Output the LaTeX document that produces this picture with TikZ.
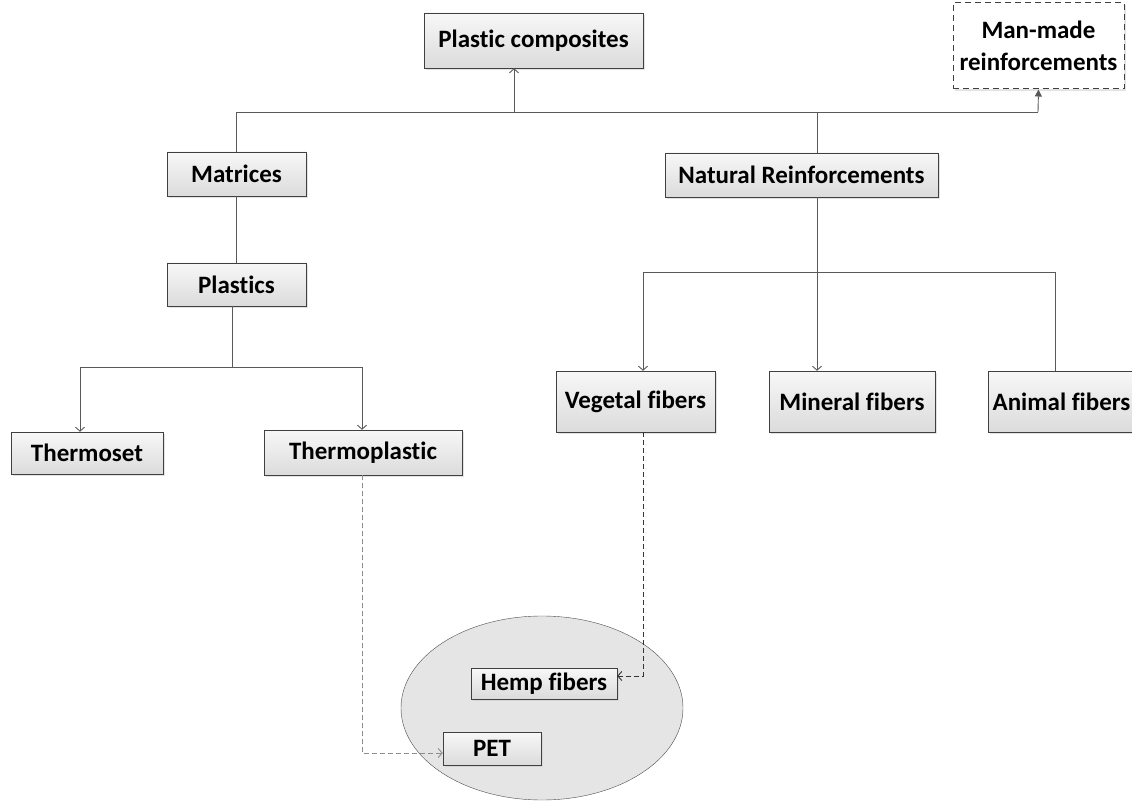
\documentclass[tikz,border=0pt]{standalone}
\usepackage{fontspec}
\setmainfont{Carlito}[Ligatures={NoCommon}]
\usetikzlibrary{arrows.meta,shadows,shapes.geometric}

\begin{document}
\begin{tikzpicture}[x=1pt, y=-1pt,
  box/.style={draw=black!75, top color=black!3, bottom color=black!14, inner sep=0pt,
    drop shadow={shadow xshift=2pt, shadow yshift=-2pt, fill=black!22},
    font=\fontsize{25}{32}\selectfont\bfseries, align=center},
  link/.style={draw=black!65, line width=0.9pt},
  tip/.style={link, -{Straight Barb[length=4pt, width=9pt]}},
  dashlink/.style={tip, dashed, dash pattern=on 5pt off 3pt},
  ]
\useasboundingbox (0,0) rectangle (1132,802);

\node[ellipse, draw=black!70, fill=black!10, minimum width=282pt, minimum height=184pt] (blend) at (542,708) {};

\node[box, minimum width=219pt, minimum height=55pt] (pc) at (533.5,40.5) {Plastic composites};
\node[box, dashed, dash pattern=on 6pt off 4pt, line width=1pt, top color=white, bottom color=white, drop shadow={opacity=0}, minimum width=171pt, minimum height=86pt] (man) at (1038.5,46) {Man-made\\reinforcements};
\node[box, minimum width=139pt, minimum height=44pt] (mat) at (236.5,174) {Matrices};
\node[box, minimum width=273pt, minimum height=44pt] (nat) at (801.5,175) {Natural Reinforcements};
\node[box, minimum width=139pt, minimum height=43pt] (pla) at (236.5,284.5) {Plastics};
\node[box, minimum width=152pt, minimum height=42pt] (tset) at (87,453) {Thermoset};
\node[box, minimum width=198pt, minimum height=45pt] (tpl) at (363,452.5) {Thermoplastic};
\node[box, minimum width=159pt, minimum height=61pt] (veg) at (635.5,401.5) {Vegetal fibers};
\node[box, minimum width=166pt, minimum height=61pt] (min) at (852,401.5) {Mineral fibers};
\node[box, minimum width=147pt, minimum height=61pt] (ani) at (1061.5,401.5) {Animal fibers};
\node[box, minimum width=146pt, minimum height=31pt] (hemp) at (544,683.5) {Hemp fibers};
\node[box, minimum width=98pt, minimum height=33pt] (pet) at (492,748.5) {PET};

\coordinate (bus) at (1038,112);
\coordinate (up) at (514,112);
\coordinate (nb) at (817,112);
\coordinate (ax) at (1055,272);
\coordinate (vx) at (643,272);
\coordinate (px) at (232,367);
\coordinate (tsx) at (80,367);
\coordinate (tpx) at (362,367);
\coordinate (tbend) at (362,753);
\coordinate (vbend) at (643,676);

\draw[link] (mat.north) |- (bus);
\draw[link, -{Triangle[length=7pt, width=7pt]}] (bus) -- (man.south);
\draw[tip] (up) -- (up |- pc.south);
\draw[link] (nb) -- (nb |- nat.north);
\draw[tip] (nb |- nat.south) -- (nb |- min.north);
\draw[tip] (ax |- ani.north) -- (ax) -| (vx |- veg.north);

\draw[link] (mat.south) -- (pla.north);
\draw[link] (px |- pla.south) -- (px);
\draw[tip] (px) -| (tsx |- tset.north);
\draw[tip] (px) -| (tpx |- tpl.north);

\draw[dashlink, draw=black!45] (tpx |- tpl.south) -- (tbend) -- (tbend -| pet.west);
\draw[dashlink, draw=black!80] (vx |- veg.south) -- (vbend) -- (vbend -| hemp.east);
\end{tikzpicture}
\end{document}
